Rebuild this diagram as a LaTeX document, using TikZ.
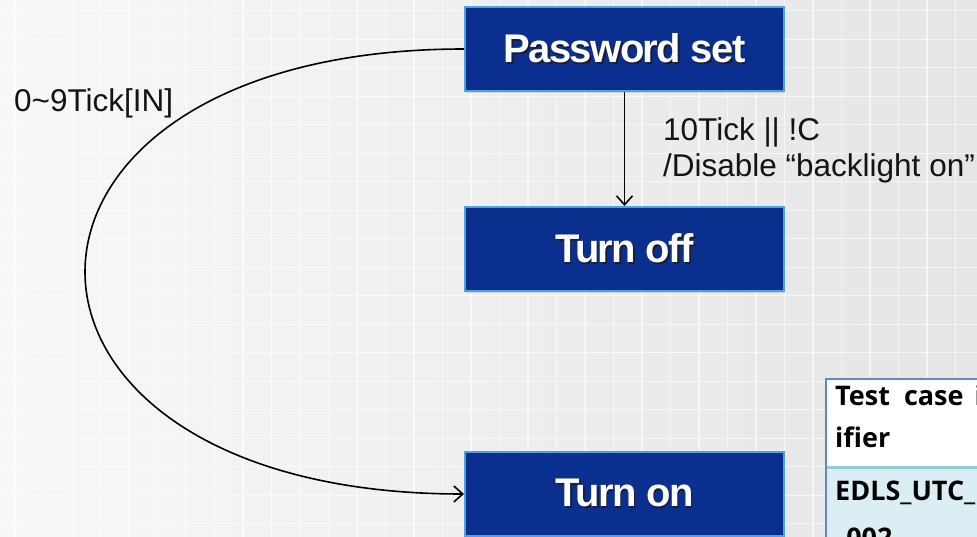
\documentclass[tikz,border=0pt]{standalone}
\usepackage{fontspec}
\usetikzlibrary{arrows.meta,shadows}
\setmainfont{Liberation Sans}
\newfontfamily\statefont[LetterSpace=-4.0]{Liberation Sans Bold}
\newfontfamily\cellfont{Open Sans}

\definecolor{bgleft}{HTML}{F8F8F8}
\definecolor{bgright}{HTML}{E5E5E5}
\definecolor{stateblue}{HTML}{0B2F8E}
\definecolor{stateedge}{HTML}{4BA3E0}
\definecolor{textshade}{HTML}{1A1E3A}
\definecolor{tabedge}{HTML}{5B8BCB}
\definecolor{rowline}{HTML}{92CDDC}
\definecolor{rowfill}{HTML}{DAEEF3}

% white label with a dark offset copy underneath
\newcommand\shadowed[1]{\rlap{\hspace*{1.6pt}\raisebox{-1.6pt}{\textcolor{textshade}{#1}}}\textcolor{white}{#1}}

\tikzset{
  statebox/.style={draw=stateedge, line width=2pt, fill=stateblue,
    minimum width=319pt, minimum height=84pt, inner sep=0pt,
    font=\statefont\fontsize{40}{40}\selectfont,
    drop shadow={opacity=0.25, shadow xshift=1pt, shadow yshift=-2.5pt}},
  link/.style={line width=1.6pt, -{Straight Barb[length=9pt,width=16pt,line width=1.6pt]}},
  lbl/.style={font=\fontsize{31.5}{36}\selectfont, inner sep=0pt, text=black!92},
  cell/.style={font=\cellfont\bfseries\fontsize{27}{42}\selectfont, inner sep=0pt},
  gridline/.style={white, line width=1.3pt, opacity=0.6},
}

\begin{document}
\begin{tikzpicture}[x=1pt,y=-1pt]
\useasboundingbox (0,0) rectangle (977,537);
\clip (0,0) rectangle (977,537);

% paper background with faint grid
\shade[left color=bgleft, right color=bgright] (0,0) rectangle (977,537);
\foreach \gx in {0,...,34} \draw[gridline] (15+28.5*\gx,0) -- ++(0,537);
\foreach \gy in {0,...,19} \draw[gridline] (0,10.7+28.5*\gy) -- ++(977,0);

% states
\node[statebox] (pw)  at (624.5,49)  {\shadowed{Password set}};
\node[statebox] (off) at (624.5,249) {\shadowed{Turn off}};
\node[statebox] (on)  at (624.5,494) {\shadowed{Turn on}};

% transitions
\draw[link] (pw) -- (off);
\draw[link] (pw.west) .. controls +(-505,0) and +(-505,0) .. (on.west);

\node[lbl, anchor=west] (tick09) at (14,103) {0\textasciitilde9Tick[IN]};
\node[lbl, anchor=north west, align=left] (guard) at (663,117)
  {10Tick || !C\\/Disable “backlight on”};

% test case table
\fill[white] (826,379) rectangle (985,467);
\fill[rowfill] (826,467) rectangle (985,545);
\draw[rowline, line width=3pt] (826,467) -- (985,467);
\draw[tabedge, line width=2pt] (826,545) -- (826,379) -- (985,379);

\node[cell, anchor=base west] (hdr) at (835,405)
  {Test\hspace{7pt} case\hspace{4pt} identifier};
\node[cell, anchor=base west] (hdr2) at (835,447) {ifier};
\node[cell, anchor=base west] (tc) at (835,500) {EDLS\_UTC\_};
\node[cell, anchor=base west] (tc2) at (835,547) {\_002};
\end{tikzpicture}
\end{document}
